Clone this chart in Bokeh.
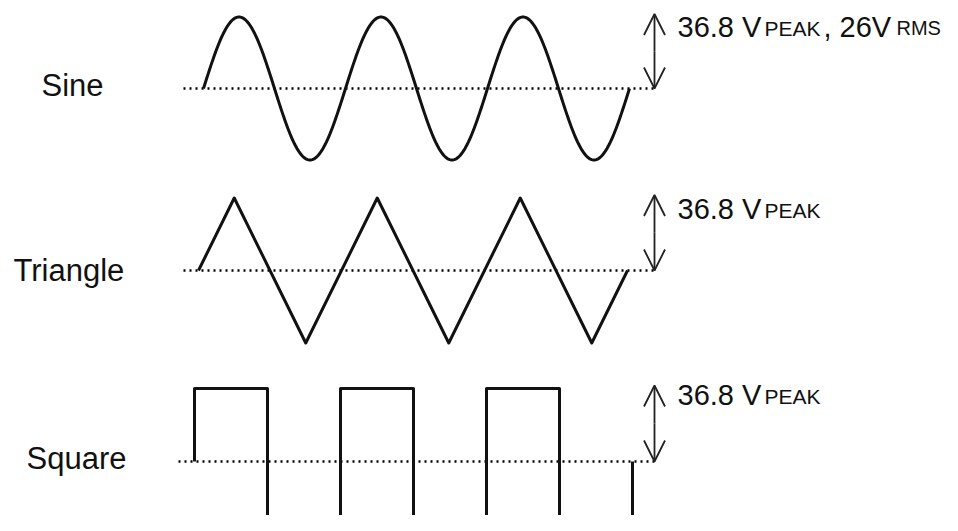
import numpy as np
from bokeh.plotting import figure
from bokeh.models import Range1d, Arrow, OpenHead
from bokeh.core.properties import value
from bokeh.embed import file_html
from bokeh.resources import INLINE

# ---- data ----
labels = ["Sine", "Triangle", "Square"]
peak_volts = [36.8, 36.8, 36.8]
main_text = ["36.8 V", "36.8 V", "36.8 V"]
sub_text = ["PEAK", "PEAK", "PEAK"]
rms_main = ", 26V"
rms_sub = "RMS"
cycles = 3

triangle_phase = [0, 0.25, 0.75, 1.25, 1.75, 2.25, 2.75, 3.0]
triangle_level = [0, 1, -1, 1, -1, 1, -1, 0]
square_phase = [0, 0, 0.5, 0.5, 1, 1, 1.5, 1.5, 2, 2, 2.5, 2.5, 3, 3]
square_level = [0, 1, 1, -1, -1, 1, 1, -1, -1, 1, 1, -1, -1, 0]
sine_phase = np.linspace(0, cycles, 361)
sine_level = np.sin(2 * np.pi * sine_phase)

# ---- layout (pixel space of the screenshot) ----
W, H = 942, 515
p = figure(width=W, height=H, output_backend="svg", toolbar_location=None,
           x_range=Range1d(0, W), y_range=Range1d(H, 0),
           min_border=0)
p.axis.visible = False
p.grid.visible = False
p.outline_line_color = None
p.background_fill_color = "white"
p.border_fill_color = "white"

# per-wave placement: start x, period px, baseline y, px amplitude, text baseline
waves = [
    dict(x0=203, per=142, base=88, amp=71.5, dot0=183, tb=38),
    dict(x0=198, per=143, base=270, amp=72.5, dot0=183, tb=220),
    dict(x0=194, per=146, base=461, amp=73.0, dot0=178, tb=406),
]
shapes = [(sine_phase, sine_level), (triangle_phase, triangle_level),
          (square_phase, square_level)]
arrow_x = 654
label_pos = [(41, 96), (13, 281), (26, 469)]
FONT = value("Liberation Sans")
INK = "#111111"
TXT_DY = -11.5  # compensate text placement

for i, (w, (ph, lv)) in enumerate(zip(waves, shapes)):
    scale = w["amp"] / peak_volts[i]
    xs = w["x0"] + np.asarray(ph, float) * w["per"]
    ys = w["base"] - np.asarray(lv, float) * peak_volts[i] * scale
    # dotted baseline
    p.line([w["dot0"], arrow_x + 1], [w["base"], w["base"]], line_color="#000000",
           line_width=2.4, line_dash="2 4")
    p.line(xs, ys, line_color=INK, line_width=3, line_join="round")
    top = w["base"] - peak_volts[i] * scale - 3
    for end_y in (top, w["base"]):
        p.add_layout(Arrow(x_start=arrow_x, y_start=(w["base"] + top) / 2,
                           x_end=arrow_x, y_end=end_y,
                           end=OpenHead(size=21, line_width=1.8, line_color="#222222"),
                           line_width=1.8, line_color="#222222"))
    lx, ly = label_pos[i]
    p.text(x=[lx], y=[ly + TXT_DY], text=[labels[i]], text_font=FONT, text_font_size="31px",
           text_color=INK, text_baseline="alphabetic", text_align="left")
    ty = w["tb"] + TXT_DY
    p.text(x=[677], y=[ty], text=[main_text[i]], text_font=FONT, text_font_size="29px",
           text_color=INK, text_baseline="alphabetic", text_align="left")
    p.text(x=[764], y=[ty + 1], text=[sub_text[i]], text_font=FONT, text_font_size="21px",
           text_color=INK, text_baseline="alphabetic", text_align="left")
    if i == 0:
        p.text(x=[823], y=[ty], text=[rms_main], text_font=FONT, text_font_size="29px",
               text_color=INK, text_baseline="alphabetic", text_align="left")
        p.text(x=[896], y=[ty + 1], text=[rms_sub], text_font=FONT, text_font_size="20px",
               text_color=INK, text_baseline="alphabetic", text_align="left")

open("out.html", "w").write(file_html(p, INLINE))
